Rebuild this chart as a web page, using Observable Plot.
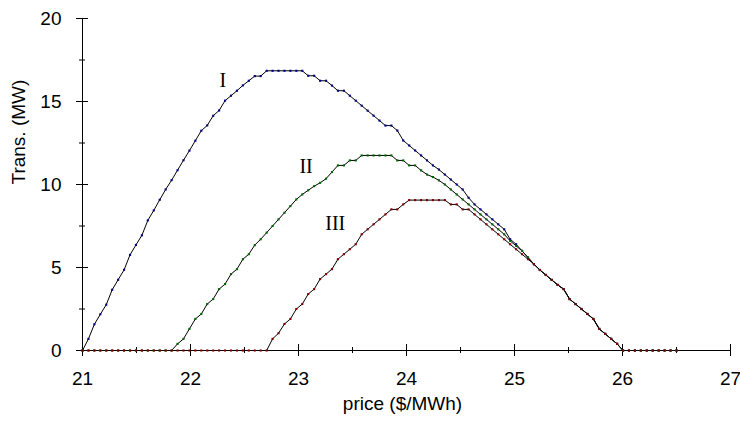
<!DOCTYPE html>
<html>
<head>
<meta charset="utf-8">
<script src="https://cdn.jsdelivr.net/npm/d3@7"></script>
<script src="https://cdn.jsdelivr.net/npm/@observablehq/plot@0.6"></script>
<style>
  html, body { margin: 0; padding: 0; background: #fff; }
  #chart svg { display: block; }
</style>
</head>
<body>
<div id="chart"></div>
<script>
// price grid ($/MWh)
const price = [
  21, 21.055, 21.11, 21.165, 21.22, 21.275, 21.33, 21.385, 21.44, 21.495,
  21.55, 21.605, 21.66, 21.715, 21.77, 21.825, 21.88, 21.935, 21.99, 22.045,
  22.1, 22.155, 22.21, 22.265, 22.32, 22.375, 22.43, 22.485, 22.54, 22.595,
  22.65, 22.705, 22.76, 22.815, 22.87, 22.925, 22.98, 23.035, 23.09, 23.145,
  23.2, 23.255, 23.31, 23.365, 23.42, 23.475, 23.53, 23.585, 23.64, 23.695,
  23.75, 23.805, 23.86, 23.915, 23.97, 24.025, 24.08, 24.135, 24.19, 24.245,
  24.3, 24.355, 24.41, 24.465, 24.52, 24.575, 24.63, 24.685, 24.74, 24.795,
  24.85, 24.905, 24.96, 25.015, 25.07, 25.125, 25.18, 25.235, 25.29, 25.345,
  25.4, 25.455, 25.51, 25.565, 25.62, 25.675, 25.73, 25.785, 25.84, 25.895,
  25.95, 26.005, 26.06, 26.115, 26.17, 26.225, 26.28, 26.335, 26.39, 26.445,
  26.5
];
// Transmission (MW), case I
const transI = [
  0, 0.7, 1.58, 2.18, 2.76, 3.66, 4.26, 4.86, 5.76, 6.36,
  6.94, 7.84, 8.44, 9.08, 9.7, 10.26, 10.86, 11.46, 12.04, 12.64,
  13.24, 13.56, 14.14, 14.46, 15.05, 15.35, 15.65, 15.97, 16.25, 16.53,
  16.53, 16.85, 16.85, 16.85, 16.85, 16.85, 16.85, 16.85, 16.55, 16.55,
  16.25, 16.25, 15.96, 15.65, 15.65, 15.35, 15.05, 14.75, 14.45, 14.15,
  13.85, 13.55, 13.55, 13.25, 12.65, 12.35, 12.05, 11.75, 11.45, 11.15,
  10.9, 10.6, 10.3, 10.0, 9.7, 9.2, 8.8, 8.5, 8.2, 7.9,
  7.6, 7.3, 6.7, 6.4, 6.0, 5.6, 5.2, 4.85, 4.55, 4.25,
  3.95, 3.7, 3.1, 2.8, 2.5, 2.2, 1.9, 1.3, 1.0, 0.7,
  0.4, 0, 0, 0, 0, 0, 0, 0, 0, 0,
  0
];
// case II
const transII = [
  0, 0, 0, 0, 0, 0, 0, 0, 0, 0,
  0, 0, 0, 0, 0, 0, 0.4, 0.7, 1.3, 1.9,
  2.2, 2.8, 3.1, 3.7, 4.0, 4.6, 4.9, 5.5, 5.8, 6.35,
  6.7, 7.1, 7.5, 7.9, 8.3, 8.7, 9.1, 9.4, 9.65, 9.9,
  10.1, 10.35, 10.75, 11.15, 11.15, 11.45, 11.45, 11.75, 11.75, 11.75,
  11.75, 11.75, 11.75, 11.45, 11.45, 11.15, 11.15, 10.85, 10.6, 10.45,
  10.25, 10.0, 9.7, 9.4, 9.1, 8.8, 8.5, 8.2, 7.9, 7.6,
  7.3, 7.0, 6.6, 6.3, 6.0, 5.6, 5.2, 4.85, 4.55, 4.25,
  3.95, 3.7, 3.1, 2.8, 2.5, 2.2, 1.9, 1.3, 1.0, 0.7,
  0.4, 0, 0, 0, 0, 0, 0, 0, 0, 0,
  0
];
// case III
const transIII = [
  0, 0, 0, 0, 0, 0, 0, 0, 0, 0,
  0, 0, 0, 0, 0, 0, 0, 0, 0, 0,
  0, 0, 0, 0, 0, 0, 0, 0, 0, 0,
  0, 0, 0.7, 1.04, 1.6, 1.9, 2.5, 2.8, 3.4, 3.7,
  4.3, 4.6, 4.9, 5.5, 5.8, 6.1, 6.4, 7.0, 7.3, 7.6,
  7.9, 8.2, 8.5, 8.5, 8.8, 9.06, 9.06, 9.06, 9.06, 9.06,
  9.06, 9.06, 8.8, 8.8, 8.5, 8.5, 8.2, 7.9, 7.6, 7.3,
  7.0, 6.7, 6.4, 6.1, 5.8, 5.5, 5.2, 4.85, 4.55, 4.25,
  3.95, 3.7, 3.1, 2.8, 2.5, 2.2, 1.9, 1.3, 1.0, 0.7,
  0.4, 0, 0, 0, 0, 0, 0, 0, 0, 0,
  0
];
const seriesNames = ["I", "II", "III"];
const seriesColors = ["#000080", "#006400", "#800000"];
const xMajor = [21, 22, 23, 24, 25, 26, 27];
const xMinor = [21.5, 22.5, 23.5, 24.5, 25.5, 26.5];
const yMajor = [0, 5, 10, 15, 20];
const yMinor = [2.5, 7.5, 12.5, 17.5];
// curve label annotations
const labelText = ["I", "II", "III"];
const labelPrice = [22.3, 23.07, 23.34];
const labelTrans = [16.27, 11.08, 7.65];

const allSeries = [transI, transII, transIII];
const rows = [];
allSeries.forEach((vals, s) => {
  price.forEach((p, i) => rows.push({price: p, trans: vals[i], series: seriesNames[s]}));
});
const labels = labelText.map((t, i) => ({text: t, price: labelPrice[i], trans: labelTrans[i]}));

const plot = Plot.plot({
  width: 740,
  height: 424,
  marginLeft: 82,
  marginRight: 10,
  marginTop: 18,
  marginBottom: 74,
  style: {fontFamily: "'Liberation Sans', Arial, sans-serif", fontSize: "19px", color: "#000", background: "#fff"},
  x: {domain: [21, 27], ticks: xMajor, tickSize: 0, tickPadding: 21, tickFormat: d => String(d), label: null},
  y: {domain: [0, 20], ticks: yMajor, tickSize: 0, tickPadding: 21, tickFormat: d => String(d), label: null},
  color: {domain: seriesNames, range: seriesColors},
  marks: [
    Plot.ruleY([0], {stroke: "#000", strokeWidth: 1}),
    Plot.ruleX([21], {stroke: "#000", strokeWidth: 1}),
    Plot.ruleX(xMajor, {x: d => d, y1: 0, y2: 0, insetTop: -6, insetBottom: -6, stroke: "#000"}),
    Plot.ruleX(xMinor, {x: d => d, y1: 0, y2: 0, insetTop: -3, insetBottom: -3, stroke: "#000"}),
    Plot.ruleY(yMajor, {y: d => d, x1: 21, x2: 21, insetLeft: -6, insetRight: -6, stroke: "#000"}),
    Plot.ruleY(yMinor, {y: d => d, x1: 21, x2: 21, insetLeft: -3, insetRight: -3, stroke: "#000"}),
    Plot.line(rows, {x: "price", y: "trans", z: "series", stroke: "#000", strokeWidth: 1}),
    Plot.dot(rows, {x: "price", y: "trans", fill: "series", symbol: "square", r: 1.2, stroke: null}),
    Plot.text(labels, {x: "price", y: "trans", text: "text", fontFamily: "'Liberation Serif', 'Times New Roman', serif", fontSize: 20, fill: "#000"}),
    Plot.text(["price ($/MWh)"], {frameAnchor: "bottom", dy: 59, dx: -4, fill: "#000"}),
    Plot.text(["Trans. (MW)"], {frameAnchor: "left", rotate: -90, dx: -64, fill: "#000"})
  ]
});
document.getElementById("chart").appendChild(plot);
</script>
</body>
</html>
